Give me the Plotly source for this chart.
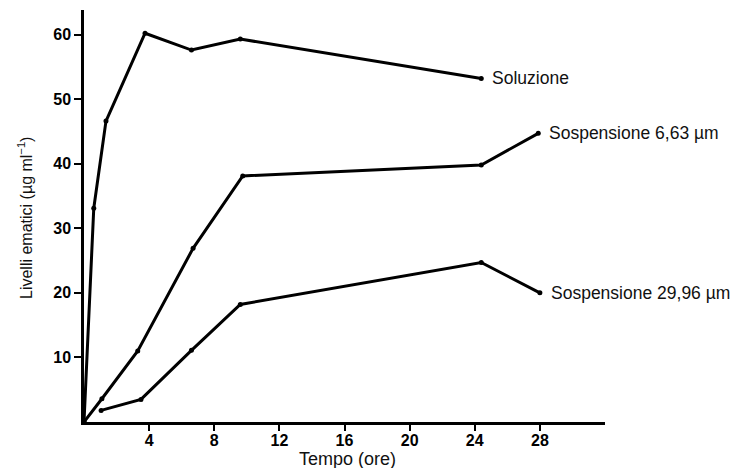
import plotly.graph_objects as go

# Data
sol_x = [0, 0.6, 1.35, 3.75, 6.6, 9.6, 24.4]
sol_y = [0, 33.1, 46.6, 60.2, 57.6, 59.3, 53.2]

s663_x = [0, 1.1, 3.3, 6.7, 9.75, 24.4, 27.9]
s663_y = [0, 3.6, 11.0, 26.9, 38.1, 39.8, 44.7]

s2996_x = [1.05, 3.5, 6.6, 9.6, 24.4, 28.0]
s2996_y = [1.8, 3.5, 11.1, 18.2, 24.7, 20.0]

series = [
    ("Soluzione", sol_x, sol_y),
    ("Sospensione 6,63 µm", s663_x, s663_y),
    ("Sospensione 29,96 µm", s2996_x, s2996_y),
]

x_ticks = [4, 8, 12, 16, 20, 24, 28]
y_ticks = [10, 20, 30, 40, 50, 60]

FONT = "Liberation Sans, Arial, Helvetica"

fig = go.Figure()
for name, xs, ys in series:
    fig.add_trace(go.Scatter(
        x=xs, y=ys, mode="lines+markers", name=name,
        line=dict(color="black", width=3),
        marker=dict(color="black", size=5),
        showlegend=False, cliponaxis=False,
    ))
    fig.add_annotation(
        x=xs[-1], y=ys[-1], text=name, showarrow=False,
        xanchor="left", yanchor="middle", xshift=9,
        font=dict(family=FONT, size=17.5, color="#111"),
    )

# Axis titles
fig.add_annotation(
    xref="paper", yref="paper", x=0.5, y=0, yshift=-37, xshift=3,
    text="Tempo (ore)", showarrow=False, xanchor="center", yanchor="middle",
    font=dict(family=FONT, size=18, color="#111"),
)
fig.add_annotation(
    xref="paper", yref="paper", x=0, y=0.5, xshift=-59, yshift=-2,
    text="Livelli ematici (µg ml<sup>−1</sup>)", showarrow=False, textangle=-90,
    xanchor="center", yanchor="middle",
    font=dict(family=FONT, size=16, color="#111"),
)

# The page body adds an 8px offset, so the figure is sized to fit the window
fig.update_layout(
    width=742, height=460,
    margin=dict(l=76, r=145, t=2, b=46),
    paper_bgcolor="white", plot_bgcolor="white",
    font=dict(family=FONT, color="black"),
)
fig.update_xaxes(
    range=[0, 32], tickvals=x_ticks, ticktext=[str(v) for v in x_ticks],
    showgrid=False, zeroline=False, showline=True, linecolor="black", linewidth=2.5,
    ticks="outside", ticklen=6, tickwidth=2, tickcolor="black", automargin=False,
    ticklabelstandoff=-4,
    tickfont=dict(family=FONT, size=16, color="black", weight="bold"),
)
fig.update_yaxes(
    range=[0, 63.8], tickvals=y_ticks, ticktext=[str(v) for v in y_ticks],
    showgrid=False, zeroline=False, showline=True, linecolor="black", linewidth=2.5,
    ticks="outside", ticklen=7, tickwidth=2, tickcolor="black", automargin=False,
    tickfont=dict(family=FONT, size=16, color="black", weight="bold"),
)

fig.write_html("out.html")
